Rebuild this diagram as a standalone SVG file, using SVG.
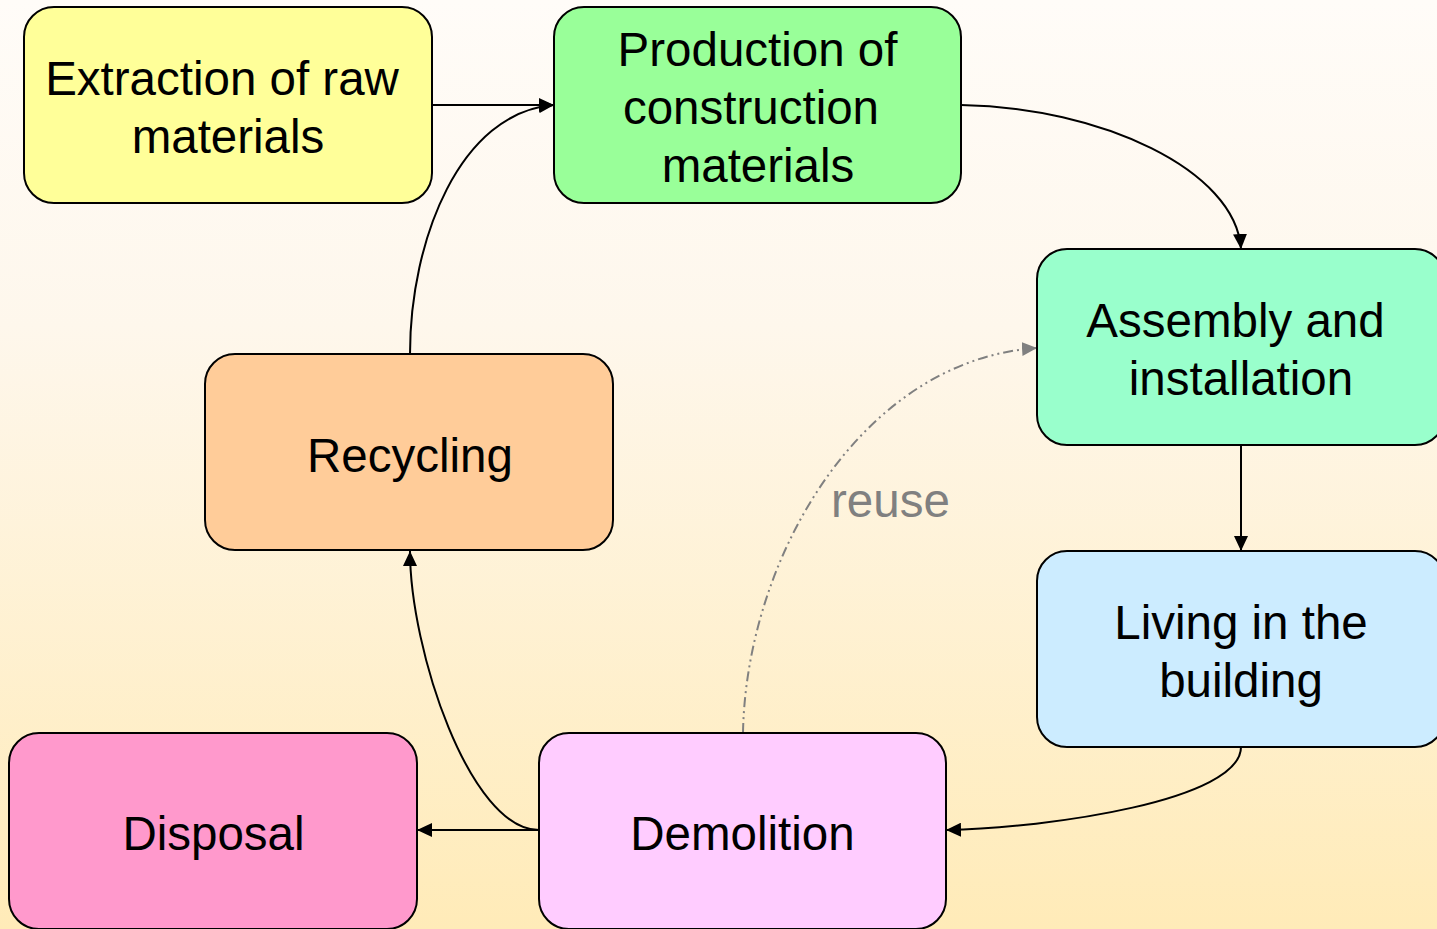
<svg xmlns="http://www.w3.org/2000/svg" width="1437" height="929" viewBox="0 0 1437 929">
<defs>
<linearGradient id="bg" x1="0" y1="0" x2="0" y2="1">
<stop offset="0" stop-color="#FFFCF8"/>
<stop offset="0.35" stop-color="#FEF7EC"/>
<stop offset="1" stop-color="#FFEBB8"/>
</linearGradient>
<marker id="ah" markerUnits="userSpaceOnUse" markerWidth="16" markerHeight="14" refX="15" refY="7" orient="auto">
<path d="M0,0 L15,7 L0,14 z" fill="#000"/>
</marker>
<marker id="ahg" markerUnits="userSpaceOnUse" markerWidth="16" markerHeight="14" refX="15" refY="7" orient="auto">
<path d="M0,0 L15,7 L0,14 z" fill="#808080"/>
</marker>
</defs>
<style>
.box{stroke:#000;stroke-width:2}
.t{font-family:"Liberation Sans",Arial,sans-serif;font-size:47.5px;fill:#000;text-anchor:middle}
.c{fill:none;stroke:#000;stroke-width:2}
.r{fill:none;stroke:#808080;stroke-width:2;stroke-dasharray:10 4 2 4 2 4}
.lbl{font-family:"Liberation Sans",Arial,sans-serif;font-size:47.5px;fill:#808080}
</style>
<rect x="0" y="0" width="1437" height="929" fill="url(#bg)"/>
<g id="connectors">
<path class="c" d="M432,105 L554,105" marker-end="url(#ah)"/>
<path class="c" d="M961,105 C1100,107 1236,170 1241,249" marker-end="url(#ah)"/>
<path class="c" d="M1241,445 L1241,551" marker-end="url(#ah)"/>
<path class="c" d="M1241,747 C1241,800 1050,828 946,830" marker-end="url(#ah)"/>
<path class="c" d="M539,830 L417,830" marker-end="url(#ah)"/>
<path class="c" d="M539,830 C470,830 410,650 410,551" marker-end="url(#ah)"/>
<path class="c" d="M410,354 C410,240 460,112 554,105" marker-end="url(#ah)"/>
<path class="r" d="M743,733 C746,560 860,360 1037,348" marker-end="url(#ahg)"/>
<text class="lbl" x="831" y="517">reuse</text>
</g>
<g id="extraction">
<rect class="box" x="24" y="7" width="408" height="196" rx="30" fill="#FFFF99"/>
<text class="t" x="222" y="95">Extraction of raw</text>
<text class="t" x="228" y="153">materials</text>
</g>
<g id="production">
<rect class="box" x="554" y="7" width="407" height="196" rx="30" fill="#99FF99"/>
<text class="t" x="757.5" y="66">Production of</text>
<text class="t" x="751" y="124">construction</text>
<text class="t" x="758" y="182">materials</text>
</g>
<g id="assembly">
<rect class="box" x="1037" y="249" width="408" height="196" rx="30" fill="#99FFCC"/>
<text class="t" x="1235.5" y="337">Assembly and</text>
<text class="t" x="1241" y="395">installation</text>
</g>
<g id="living">
<rect class="box" x="1037" y="551" width="408" height="196" rx="30" fill="#CCECFF"/>
<text class="t" x="1241" y="639">Living in the</text>
<text class="t" x="1241" y="697">building</text>
</g>
<g id="recycling">
<rect class="box" x="205" y="354" width="408" height="196" rx="30" fill="#FFCC99"/>
<text class="t" x="410" y="472">Recycling</text>
</g>
<g id="demolition">
<rect class="box" x="539" y="733" width="407" height="196" rx="30" fill="#FFCCFF"/>
<text class="t" x="742.5" y="850">Demolition</text>
</g>
<g id="disposal">
<rect class="box" x="9" y="733" width="408" height="196" rx="30" fill="#FF99CC"/>
<text class="t" x="213.5" y="850">Disposal</text>
</g>
</svg>
